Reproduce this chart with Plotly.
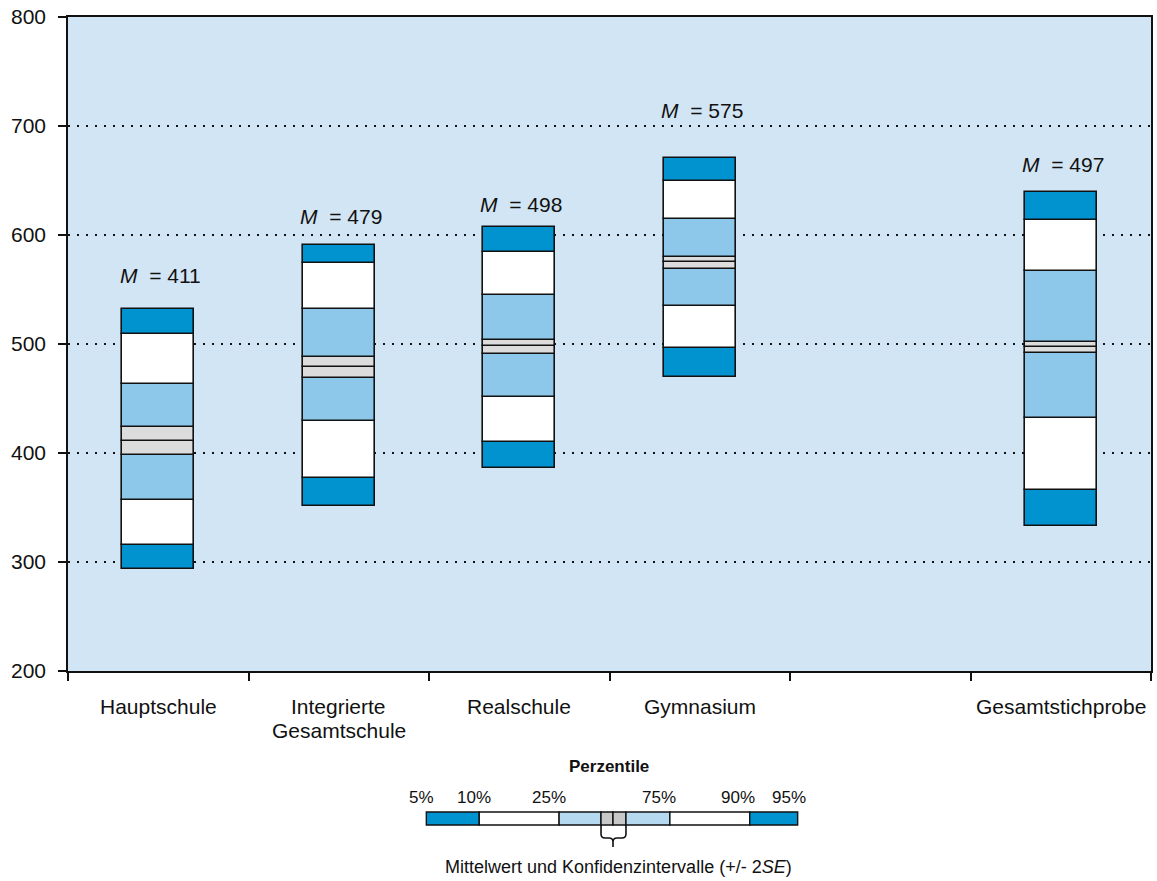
import plotly.graph_objects as go

# School types (an empty slot separates the full sample)
categories = ["Hauptschule", "Integrierte<br>Gesamtschule", "Realschule", "Gymnasium", "Gesamtstichprobe"]
axis_order = ["Hauptschule", "Integrierte<br>Gesamtschule", "Realschule", "Gymnasium", " ", "Gesamtstichprobe"]

# Percentiles, mean and confidence interval (+/- 2 SE)
p5 = [294, 351, 386, 470, 333]
p10 = [316, 377, 410, 496, 366]
p25 = [357, 429, 451, 535, 432]
ci_lo = [398, 469, 491, 569, 492]
mean = [411, 479, 498, 575, 497]
ci_hi = [424, 488, 504, 580, 502]
p75 = [463, 532, 545, 615, 567]
p90 = [509, 574, 584, 650, 614]
p95 = [532, 591, 607, 671, 639]

y_ticks = [200, 300, 400, 500, 600, 700, 800]
legend_pct = ["5%", "10%", "25%", "75%", "90%", "95%"]

DARK = "#0093D0"
LIGHT = "#8DC8EA"
GREY = "#DCDCDC"
WHITE = "#FFFFFF"
BG = "#D1E5F4"
FONT = "Liberation Sans, Arial, sans-serif"

fig = go.Figure()

segments = [
    (p5, p10, DARK),
    (p10, p25, WHITE),
    (p25, ci_lo, LIGHT),
    (ci_lo, mean, GREY),
    (mean, ci_hi, GREY),
    (ci_hi, p75, LIGHT),
    (p75, p90, WHITE),
    (p90, p95, DARK),
]
for lo, hi, col in segments:
    fig.add_trace(go.Bar(
        x=categories,
        y=[h - l for l, h in zip(lo, hi)],
        base=lo,
        width=0.40,
        marker=dict(color=col, line=dict(color="#111111", width=1.6)),
        showlegend=False,
        hoverinfo="skip",
    ))

# Mean labels above each column
label_lift = [34, 28, 23, 47, 28]
for cat, m, top, lift in zip(categories, mean, p95, label_lift):
    fig.add_annotation(
        x=cat, y=top, xref="x", yref="y",
        text=f"<i>M</i>\u00a0 = {m}",
        showarrow=False, yanchor="middle", xanchor="center",
        yshift=lift, xshift=2,
        font=dict(family=FONT, size=21, color="#111111"),
    )

# Category labels under the axis (tight line spacing for two-line names)
for cat in categories:
    for k, line in enumerate(cat.split("<br>")):
        fig.add_annotation(
            x=cat, y=0, xref="x", yref="paper",
            text=line, showarrow=False, xanchor="center", yanchor="middle",
            yshift=-35 - 24 * k,
            font=dict(family=FONT, size=21, color="#111111"),
        )

# ---- percentile key below the chart (pixel layout converted to paper coords)
L, R, T, B = 68, 1153, 17, 671


def px_x(x):
    return (x - L) / (R - L)


def px_y(y):
    return (B - y) / (B - T)


key_edges = [427, 480, 560, 602, 614, 627, 671, 751, 799]
key_cols = [DARK, WHITE, "#B5DAF0", "#C8C8C8", "#C8C8C8", "#B5DAF0", WHITE, DARK]
for i, col in enumerate(key_cols):
    fig.add_shape(
        type="rect", xref="paper", yref="paper",
        x0=px_x(key_edges[i]), x1=px_x(key_edges[i + 1]),
        y0=px_y(825), y1=px_y(812),
        fillcolor=col, line=dict(color="#111111", width=1.4),
    )

pct_x = [422, 475, 550, 660, 739, 790]
for lab, x in zip(legend_pct, pct_x):
    fig.add_annotation(
        x=px_x(x), y=px_y(797), xref="paper", yref="paper",
        text=lab, showarrow=False, xanchor="center", yanchor="middle",
        font=dict(family=FONT, size=17, color="#111111"),
    )

fig.add_annotation(
    x=px_x(610), y=px_y(766), xref="paper", yref="paper",
    text="<b>Perzentile</b>", showarrow=False, xanchor="center", yanchor="middle",
    font=dict(family=FONT, size=17, color="#111111"),
)
fig.add_annotation(
    x=px_x(620), y=px_y(867), xref="paper", yref="paper",
    text="Mittelwert und Konfidenzintervalle (+/- 2<i>SE</i>)",
    showarrow=False, xanchor="center", yanchor="middle",
    font=dict(family=FONT, size=18, color="#111111"),
)


def P(x, y):
    return f"{px_x(x):.5f},{px_y(y):.5f}"


# Curly brace under the confidence interval
brace = (
    f"M {P(602, 825)} L {P(602, 834)} Q {P(602, 838)} {P(606, 838)} "
    f"L {P(610, 838)} Q {P(614, 838)} {P(614, 842)} L {P(614, 847)} "
    f"M {P(614, 842)} Q {P(614, 838)} {P(618, 838)} L {P(623, 838)} "
    f"Q {P(627, 838)} {P(627, 834)} L {P(627, 825)}"
)
fig.add_shape(type="path", xref="paper", yref="paper", path=brace,
              line=dict(color="#111111", width=1.6))

fig.update_layout(
    width=1157, height=881,
    margin=dict(l=L, r=1157 - R, t=T, b=881 - B),
    paper_bgcolor="white",
    plot_bgcolor=BG,
    barmode="overlay",
    bargap=0,
    font=dict(family=FONT, size=21, color="#111111"),
    xaxis=dict(
        type="category",
        categoryorder="array",
        categoryarray=axis_order,
        range=[-0.5, 5.5],
        tickson="boundaries",
        ticks="outside", ticklen=8, tickwidth=1.5, tickcolor="#111111",
        showline=True, linecolor="#111111", linewidth=1.5, mirror=True,
        showgrid=False,
        showticklabels=False,
    ),
    yaxis=dict(
        range=[200, 800],
        tickvals=y_ticks,
        ticks="outside", ticklen=8, tickwidth=1.5, tickcolor="#111111",
        showline=True, linecolor="#111111", linewidth=1.5, mirror=True,
        showgrid=True, gridcolor="#111111", gridwidth=2, griddash="2px,7px",
        zeroline=False,
        ticklabelstandoff=8,
        tickfont=dict(family=FONT, size=21, color="#111111"),
    ),
)

fig.write_html("out.html")
